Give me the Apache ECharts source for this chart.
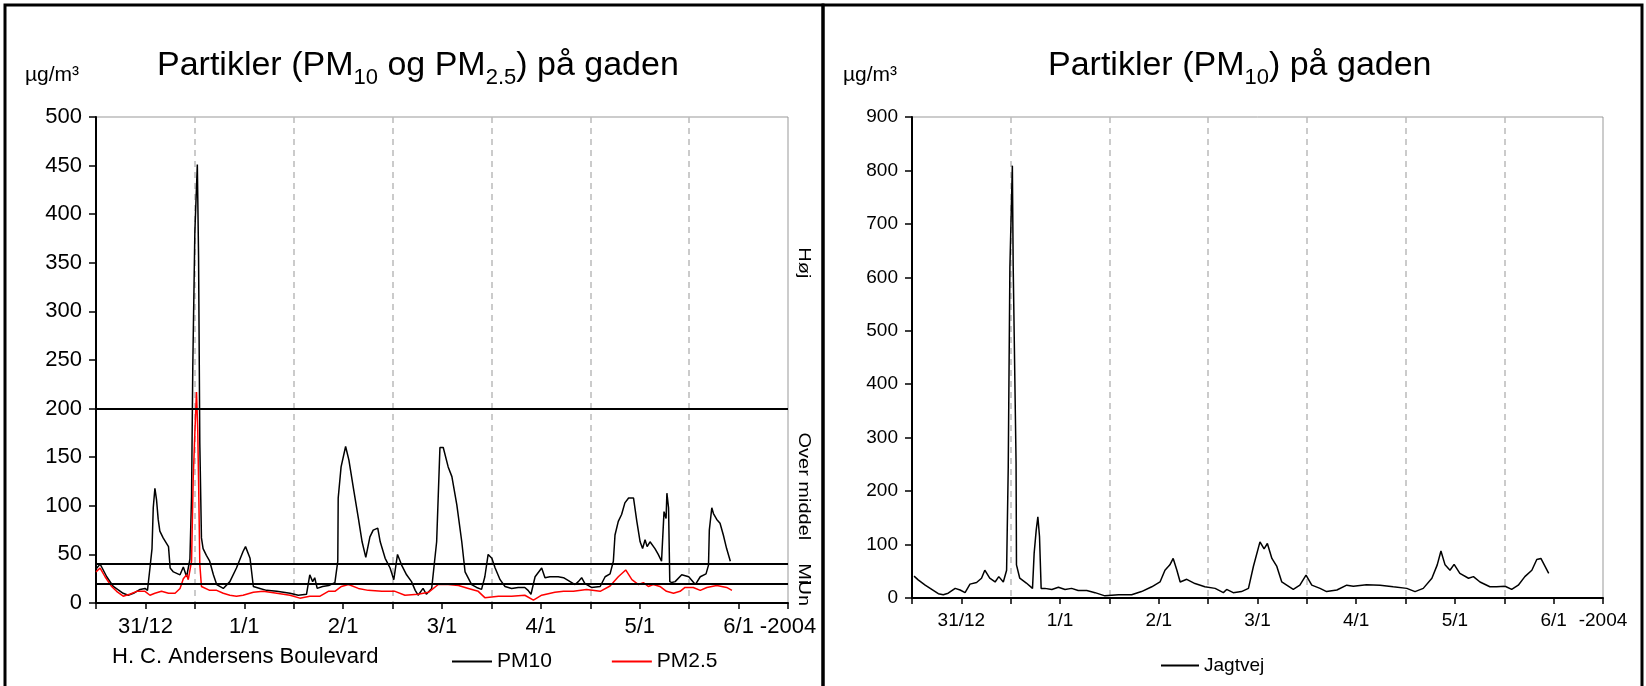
<!DOCTYPE html>
<html><head><meta charset="utf-8">
<script src="https://cdn.jsdelivr.net/npm/echarts@6/dist/echarts.min.js"></script>
<style>html,body{margin:0;padding:0;background:#fff}#c{width:1646px;height:686px}</style>
</head><body><div id="c"></div>
<script>
// ---- data (x = hours since 31/12 00:00) ----
const dayLabels = ['31/12','1/1','2/1','3/1','4/1','5/1','6/1'];
const yearLabel = '-2004';
const thresholds = [20, 40, 200];
const bandNames = ['Un', 'Mi', 'Over middel', 'Høj'];
const siteLeft = 'H. C. Andersens Boulevard';

const pm10 = [[0,35],[1,40],[1.5,36],[2.6,27],[4.2,17],[6.6,10],[7.8,8],[9.1,10],[10.7,14],[11.9,15],[12.5,13],[13.1,36],[13.6,56],[13.9,98],[14.3,118],[14.7,106],[15.1,86],[15.5,74],[16.3,67],[17.6,58],[18,36],[18.8,32],[20.4,29],[21.2,37],[22,27],[22.8,45],[23.2,110],[23.5,244],[24.0,382],[24.6,451],[24.9,356],[25.2,165],[25.6,67],[26,56],[26.8,49],[27.6,43],[28.5,29],[29.3,19],[30.9,15],[32.5,22],[34.1,36],[35.7,53],[36.3,58],[37.4,46],[38.2,17],[39.8,15],[41.4,13],[43.9,12],[47.1,10],[49.1,8],[51.1,9],[51.9,29],[52.6,22],[53.1,26],[53.7,15],[55,17],[56.5,18],[58,21],[58.7,43],[58.8,108],[59.5,140],[60.6,161],[61.4,147],[62.5,118],[63.7,87],[64.6,63],[65.5,47],[66.5,68],[67.3,75],[68.4,77],[69,63],[70.2,46],[71.4,36],[72.3,24],[73.2,50],[74.2,39],[75.4,29],[76.6,22],[77.5,13],[78.2,8],[79.4,15],[80.2,9],[81.5,15],[82.7,63],[83.5,160],[84.3,160],[85.5,140],[86.4,130],[87.6,101],[88.8,63],[89.6,32],[91.2,19],[92.4,16],[93.6,14],[94.4,27],[95.2,50],[96.1,46],[96.9,36],[98.1,24],[99.3,17],[100.9,15],[102.5,16],[104.1,16],[104.9,13],[105.6,9],[106.6,27],[108.2,36],[109,26],[110.2,27],[112.2,27],[113.5,26],[114.3,24],[116.3,19],[117.1,22],[117.9,26],[118.7,20],[120.3,16],[122.4,17],[123.6,27],[124.8,30],[125.6,43],[126,70],[126.8,84],[127.6,91],[128.4,103],[129.3,108],[130.5,108],[131.3,84],[132.1,63],[132.7,56],[133.3,65],[133.8,58],[134.5,63],[135.7,56],[136.5,50],[137.3,43],[137.9,94],[138.4,87],[138.6,113],[139,98],[139.3,22],[139.8,21],[140.6,22],[142.2,29],[143.9,27],[145.5,19],[146.7,27],[148.1,30],[148.7,39],[148.9,75],[149.5,98],[149.9,92],[150.7,86],[151.5,82],[152.3,70],[153.1,56],[154,43]];

const pm25 = [[0,32],[1,36],[2.2,27],[3.8,17],[5,12],[6.6,7],[8.2,9],[9.9,12],[11.9,12],[13.1,8],[14.3,10],[15.9,12],[17.6,10],[19.2,10],[20.4,15],[21.2,25],[22,29],[22.4,24],[23.2,43],[23.6,128],[24.0,175],[24.4,217],[24.7,178],[24.9,127],[25.2,40],[25.6,17],[25.9,19],[27.6,13],[29.3,13],[30.9,10],[32.5,8],[34.1,7],[35.7,8],[38.2,11],[40.6,12],[43.9,10],[47.1,8],[49.5,5],[51.9,7],[54.4,7],[56.4,12],[58,12],[59.6,17],[61.3,19],[63.7,15],[66.1,13],[69.4,12],[72.6,12],[75,8],[78.2,9],[80.7,11],[83.1,19],[85.5,19],[88,18],[90.4,15],[92.8,12],[94.4,5.5],[97.7,7],[100.9,7],[104.1,8],[106.2,3],[108.2,8],[111.4,11],[113.5,12],[115.9,12],[119.1,14],[122.4,12],[124.8,17.5],[126.8,27],[128.6,34],[130.1,24],[131.7,19],[132.9,21],[134.1,17],[135.3,19],[136.9,17],[138.5,12],[140.2,10],[141.8,12],[143,16],[145,16],[146.7,13],[148.3,16],[150.7,18],[153.1,16],[154.4,13]];

const jagtvej = [[0.5,41],[1.5,34],[3.2,24],[4.8,16],[6.4,8],[7.6,6],[8.8,9],[10.5,18],[11.7,15],[12.9,10],[14.1,26],[15.7,29],[16.9,37],[17.7,52],[18.9,37],[20.2,30],[21.1,40],[22.2,30],[23,52],[23.4,245],[23.8,619],[24.4,809],[24.6,622],[25,622],[25.3,254],[25.4,62],[26.2,37],[27.8,28],[29.3,18],[29.7,84],[30.2,127],[30.6,152],[31,115],[31.4,18],[32.3,18],[34,16],[35.6,20],[37.2,16],[38.8,18],[40.4,14],[42.5,14],[44.5,10],[46.9,4],[50.2,6],[53.4,6],[55.8,12],[58.3,21],[60.3,30],[61.5,52],[62.7,62],[63.5,74],[64.4,52],[65.2,30],[66.8,35],[68.8,27],[71.2,21],[73.7,18],[75.7,10],[76.5,16],[78.1,10],[80.1,12],[81.8,18],[83,59],[84.6,105],[85.6,92],[86.4,102],[87.5,74],[88.7,59],[89.9,30],[91.1,24],[92.7,16],[94.3,24],[95.8,43],[97.2,24],[99.2,18],[100.8,12],[103.3,15],[105.7,24],[107.3,22],[110.5,25],[113.8,24],[117,21],[120.3,18],[122.3,12],[124.3,18],[126.4,37],[127.7,62],[128.6,88],[129.6,62],[130.8,52],[131.8,63],[133.2,46],[135.3,37],[136.5,40],[138.1,30],[140.5,21],[142.1,21],[144.2,22],[145.8,16],[147.4,24],[149,40],[150.7,52],[151.9,72],[152.9,74],[154.8,46]];

// ---- chart ----
const FONT = '"Liberation Sans", Arial, sans-serif';
const HOURS = dayLabels.length * 24;
const chart = echarts.init(document.getElementById('c'), null, {renderer: 'canvas'});

function xLabel(v) {
  if (v % 24 === 12) return dayLabels[(v - 12) / 24];
  if (v === HOURS) return yearLabel;
  return '';
}
function mainX(g, fs) {
  return {gridIndex: g, type: 'value', min: 0, max: HOURS, interval: 12,
    axisLine: {lineStyle: {color: '#000', width: 2}},
    axisTick: {show: true, length: 6, lineStyle: {color: '#000', width: 1.5}},
    axisLabel: {formatter: xLabel, fontSize: fs, color: '#000', margin: 13, fontFamily: FONT, showMinLabel: true, showMaxLabel: true},
    splitLine: {show: false}};
}
function dayX(g) {
  return {gridIndex: g, type: 'value', min: 0, max: HOURS, interval: 24,
    axisLine: {show: false}, axisTick: {show: false}, axisLabel: {show: false},
    splitLine: {show: true, showMinLine: false, showMaxLine: false, lineStyle: {color: '#bbb', type: [6, 5], width: 1.5}}};
}
function yAx(g, max, step, fs) {
  return {gridIndex: g, type: 'value', min: 0, max: max, interval: step,
    axisLine: {show: true, lineStyle: {color: '#000', width: 2}},
    axisTick: {show: true, length: 7, lineStyle: {color: '#000', width: 1.5}},
    axisLabel: {fontSize: fs, color: '#000', margin: 14, fontFamily: FONT},
    splitLine: {show: false}};
}
const titleRich = {
  m: {fontSize: 34, fontWeight: 'normal', fontFamily: FONT, color: '#000', lineHeight: 40, verticalAlign: 'bottom'},
  s: {fontSize: 22, fontWeight: 'normal', fontFamily: FONT, color: '#000', lineHeight: 26, verticalAlign: 'bottom', padding: [0, 0, -6, 0]}
};
const unitStyle = {fontSize: 21, fontWeight: 'normal', color: '#000', fontFamily: FONT};

chart.setOption({
  animation: false,
  backgroundColor: '#fff',
  title: [
    {text: '{m|Partikler (PM}{s|10}{m| og PM}{s|2.5}{m|) på gaden}', left: 152, top: 38, textStyle: {fontWeight: 'normal', rich: titleRich}},
    {text: '{m|Partikler (PM}{s|10}{m|) på gaden}', left: 1043, top: 38, textStyle: {fontWeight: 'normal', rich: titleRich}},
    {text: 'µg/m³', left: 20, top: 60, textStyle: unitStyle},
    {text: 'µg/m³', left: 838, top: 60, textStyle: unitStyle}
  ],
  grid: [
    {left: 96, top: 117, width: 692, height: 486, show: true, borderColor: '#999', borderWidth: 1},
    {left: 912, top: 117, width: 691, height: 481, show: true, borderColor: '#999', borderWidth: 1}
  ],
  xAxis: [mainX(0, 22), dayX(0), mainX(1, 19), dayX(1)],
  yAxis: [yAx(0, 500, 50, 22), yAx(1, 900, 100, 19)],
  legend: [
    {data: ['PM10', 'PM2.5'], left: 447, top: 646, icon: 'rect', itemWidth: 40, itemHeight: 2, itemGap: 60,
      textStyle: {fontSize: 21, color: '#000', fontFamily: FONT}},
    {data: ['Jagtvej'], left: 1156, top: 651, icon: 'rect', itemWidth: 38, itemHeight: 2, itemGap: 6,
      textStyle: {fontSize: 19, color: '#000', fontFamily: FONT}}
  ],
  series: [
    {name: 'PM10', type: 'line', xAxisIndex: 0, yAxisIndex: 0, data: pm10, symbol: 'none',
      lineStyle: {color: '#000', width: 1.5}, itemStyle: {color: '#000'}, z: 3,
      markLine: {silent: true, symbol: 'none', label: {show: false},
        lineStyle: {color: '#000', type: 'solid', width: 2},
        emphasis: {disabled: true},
        data: thresholds.map(t => ({yAxis: t}))}},
    {name: 'PM2.5', type: 'line', xAxisIndex: 0, yAxisIndex: 0, data: pm25, symbol: 'none',
      lineStyle: {color: '#ff0000', width: 1.5}, itemStyle: {color: '#ff0000'}, z: 4},
    {name: 'Jagtvej', type: 'line', xAxisIndex: 2, yAxisIndex: 1, data: jagtvej, symbol: 'none',
      lineStyle: {color: '#000', width: 1.5}, itemStyle: {color: '#000'}, z: 3}
  ]
});

// band labels at right of left plot, positioned from thresholds
const edges = [0].concat(thresholds, [500]);
const graphics = [];
bandNames.forEach((name, i) => {
  const mid = (edges[i] + edges[i + 1]) / 2;
  const p = chart.convertToPixel({xAxisIndex: 0, yAxisIndex: 0}, [HOURS, mid]);
  graphics.push({type: 'text', x: p[0] + 15, y: p[1], rotation: -Math.PI / 2, scaleX: 1.25,
    style: {text: name, fontSize: 16, fontFamily: FONT, fill: '#000', align: 'center', verticalAlign: 'middle'}});
});
graphics.push({type: 'text', left: 112, top: 646, style: {text: siteLeft, fontSize: 22, fontFamily: FONT, fill: '#000'}});
graphics.push({type: 'rect', shape: {x: 5, y: 5, width: 818, height: 700}, style: {fill: 'none', stroke: '#000', lineWidth: 3}, silent: true});
graphics.push({type: 'rect', shape: {x: 823, y: 5, width: 819, height: 700}, style: {fill: 'none', stroke: '#000', lineWidth: 3}, silent: true});
chart.setOption({graphic: graphics});
</script></body></html>
